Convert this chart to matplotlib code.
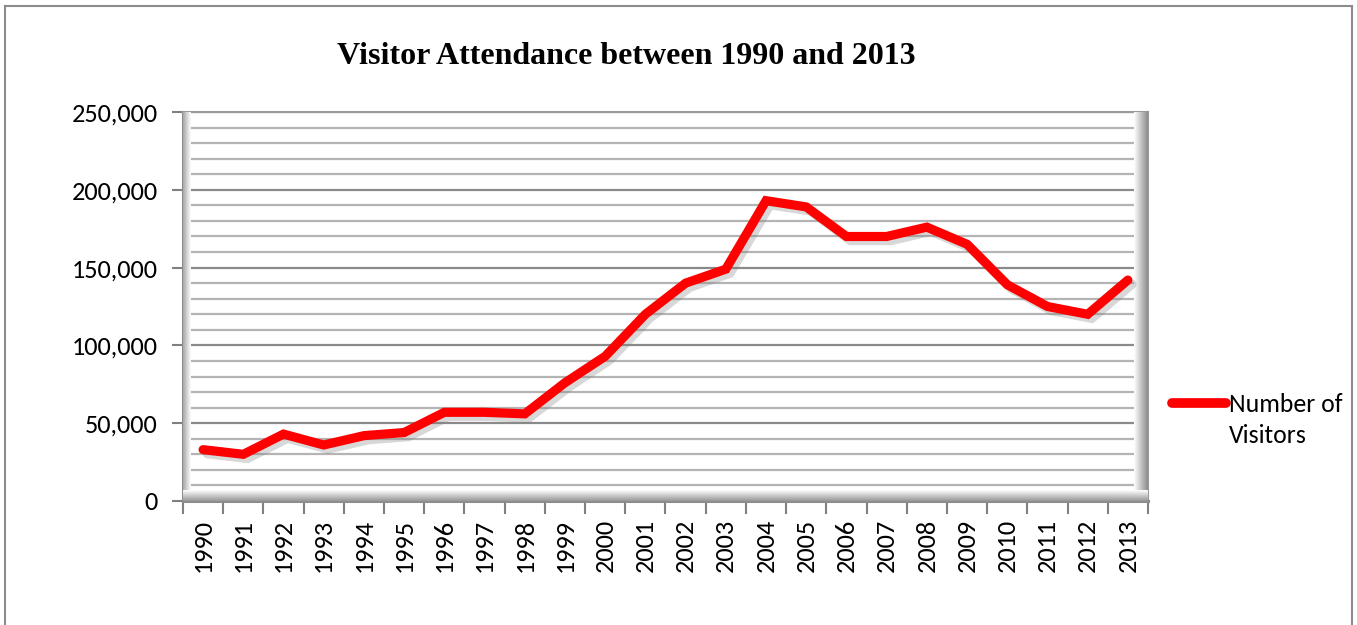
import matplotlib
matplotlib.use("Agg")
import matplotlib.pyplot as plt
import matplotlib.patheffects as pe
from matplotlib.lines import Line2D
from matplotlib.ticker import FuncFormatter, MultipleLocator, FixedLocator
from matplotlib.colors import LinearSegmentedColormap
import numpy as np

years = ["1990", "1991", "1992", "1993", "1994", "1995", "1996", "1997", "1998", "1999",
         "2000", "2001", "2002", "2003", "2004", "2005", "2006", "2007", "2008", "2009",
         "2010", "2011", "2012", "2013"]
visitors = [33000, 30000, 43000, 36000, 42000, 44000, 57000, 57000, 56000, 76000,
            93000, 120000, 140000, 149000, 193000, 189000, 170000, 170000, 176000, 165000,
            139000, 125000, 120000, 142000]
series_name = "Number of\nVisitors"
title = "Visitor Attendance between 1990 and 2013"

W, H = 1357, 625
fig = plt.figure(figsize=(W / 100, H / 100), dpi=100)
fig.patch.set_facecolor("white")

x0, x1, y0, y1 = 183, 1148, 112, 501
ax = fig.add_axes([x0 / W, 1 - y1 / H, (x1 - x0) / W, (y1 - y0) / H])
ax.set_facecolor("white")

n = len(years)
xs = np.arange(n)
fonts = ["Carlito", "Open Sans", "DejaVu Sans"]

# shading (3D wall look)
lw_frac = 8 / (x1 - x0)
rw_frac = 14 / (x1 - x0)
fl_frac = 11 / (y1 - y0)
g = np.linspace(0, 1, 64)
cm = LinearSegmentedColormap.from_list("w", ["#ffffff", "#8c8c8c"])
ax.imshow(g[::-1].reshape(1, -1), extent=[0, lw_frac, 0, 1], transform=ax.transAxes,
          aspect="auto", cmap=cm, vmin=0, vmax=1.3, zorder=2.6, interpolation="bicubic")
ax.imshow(g.reshape(1, -1), extent=[1 - rw_frac, 1, 0, 1], transform=ax.transAxes,
          aspect="auto", cmap=cm, vmin=0, vmax=1.0, zorder=2.6, interpolation="bicubic")
ax.imshow(g.reshape(-1, 1), extent=[0, 1, 0, fl_frac], transform=ax.transAxes,
          aspect="auto", cmap=cm, vmin=0, vmax=1.1, zorder=2.7, interpolation="bicubic")

ax.set_xlim(-0.5, n - 0.5)
ax.set_ylim(0, 250000)

ax.yaxis.set_major_locator(MultipleLocator(50000))
ax.yaxis.set_minor_locator(MultipleLocator(10000))
ax.grid(axis="y", which="minor", color="#b4b4b4", linewidth=1.6, zorder=1)
ax.grid(axis="y", which="major", color="#8a8a8a", linewidth=1.6, zorder=1)
ax.set_axisbelow(True)

ax.plot(xs, visitors, color="#ff0000", linewidth=6.6, solid_joinstyle="miter",
        solid_capstyle="round", zorder=3,
        path_effects=[pe.SimpleLineShadow(offset=(3, -3), shadow_color="#808080", alpha=0.3),
                      pe.Normal()])

ax.yaxis.set_major_formatter(FuncFormatter(lambda v, p: f"{int(v):,}"))
ax.tick_params(axis="y", which="major", labelsize=19, length=8, width=1.5, color="#808080", pad=10)
ax.tick_params(axis="y", which="minor", length=0)

ax.set_xticks(xs)
ax.set_xticklabels(years, rotation=90, fontsize=19)
ax.xaxis.set_minor_locator(FixedLocator(np.arange(n + 1) - 0.5))
ax.tick_params(axis="x", which="major", length=0, pad=13)
ax.tick_params(axis="x", which="minor", length=9, width=1.5, color="#808080")

for s in ["left", "bottom"]:
    ax.spines[s].set_color("#8c8c8c")
    ax.spines[s].set_linewidth(2.2)
for s in ["top", "right"]:
    ax.spines[s].set_color("#9a9a9a")
    ax.spines[s].set_linewidth(1.5)

for lab in ax.get_xticklabels() + ax.get_yticklabels():
    lab.set_fontfamily(fonts)

fig.text(626 / W, 1 - 56 / H, title, ha="center", va="center",
         fontfamily="Liberation Serif", fontweight="bold", fontsize=23)

# legend
leg_y = 1 - 403 / H
fig.add_artist(Line2D([1172 / W, 1226 / W], [leg_y, leg_y], color="#ff0000",
                      linewidth=7, solid_capstyle="round"))
fig.text(1229 / W, 1 - 420 / H, series_name, ha="left", va="center", fontsize=18.5,
         linespacing=1.45, fontfamily=fonts)

# outer border
bc = "#8c8c8c"
fig.add_artist(Line2D([5 / W, 5 / W], [0, 1 - 6 / H], color=bc, linewidth=1.5))
fig.add_artist(Line2D([5 / W, 1352 / W], [1 - 6 / H, 1 - 6 / H], color=bc, linewidth=1.5))
fig.add_artist(Line2D([1352 / W, 1352 / W], [0, 1 - 6 / H], color=bc, linewidth=1.5))

fig.savefig("out.png", dpi=100, facecolor="white")
